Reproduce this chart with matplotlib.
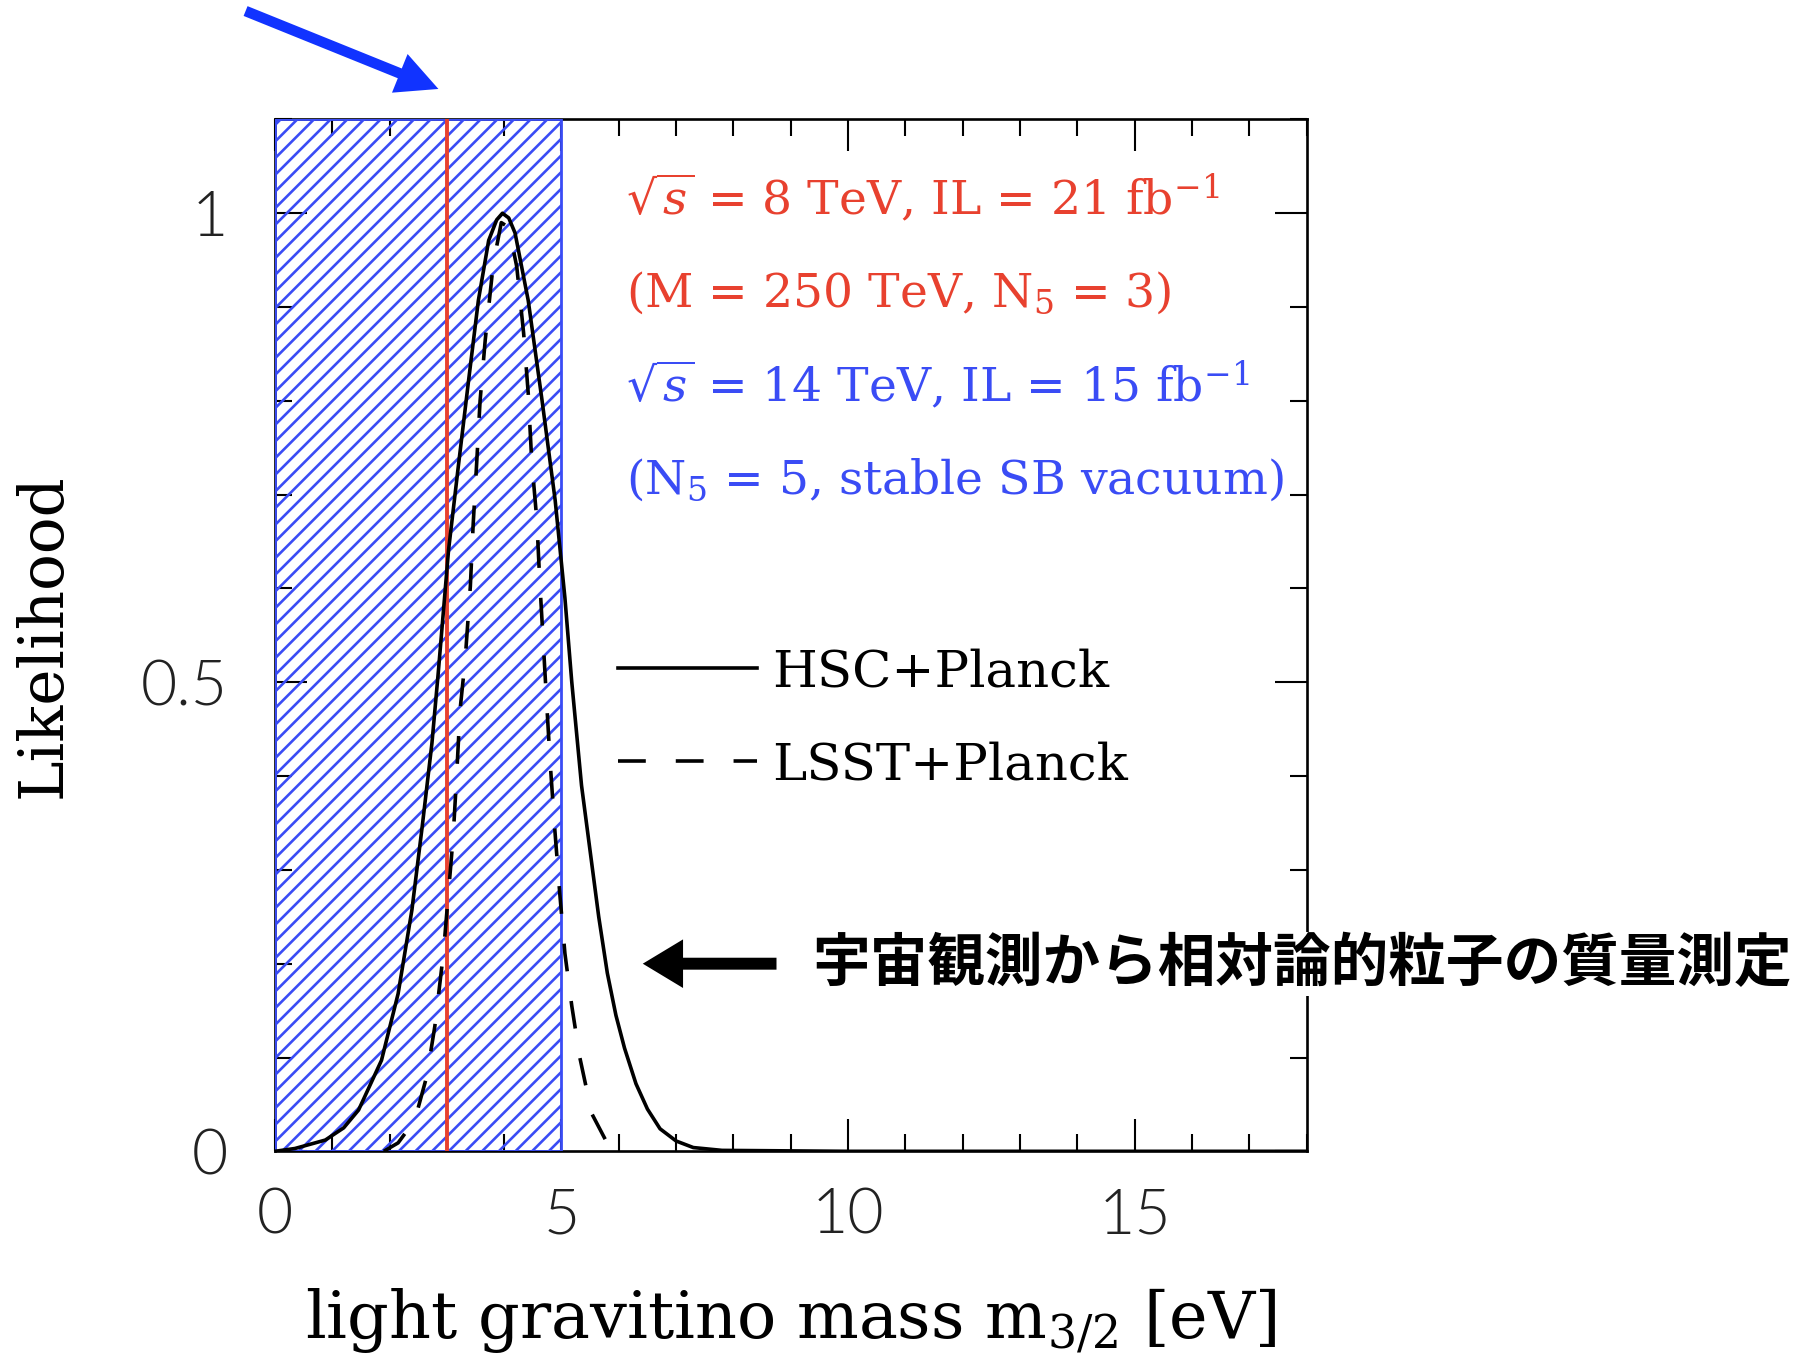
import numpy as np
import matplotlib.pyplot as plt
from matplotlib.ticker import MultipleLocator
from matplotlib.patches import FancyArrowPatch

# значения
hsc_x = [0.0, 0.35, 0.88, 1.2, 1.46, 1.86, 2.15, 2.39, 2.57, 2.74, 2.85, 3.03, 3.20, 3.38,
         3.55, 3.73, 3.87, 3.97, 4.08, 4.19, 4.42, 4.66, 4.89, 5.06, 5.18, 5.35, 5.5, 5.65,
         5.8, 5.95, 6.1, 6.3, 6.5, 6.72, 7.0, 7.3, 7.8, 10.0, 18.0]
hsc_y = [0.0, 0.003, 0.012, 0.025, 0.044, 0.097, 0.168, 0.257, 0.346, 0.435, 0.51, 0.641, 0.730, 0.822,
         0.907, 0.971, 0.993, 1.0, 0.995, 0.979, 0.907, 0.801, 0.694, 0.59, 0.50, 0.39, 0.32, 0.25,
         0.19, 0.145, 0.11, 0.072, 0.045, 0.024, 0.011, 0.004, 0.001, 0.0, 0.0]

lsst_x = [1.9, 2.15, 2.44, 2.65, 2.79, 2.94, 3.11, 3.17, 3.23, 3.32, 3.41, 3.46, 3.52, 3.58, 3.67,
          3.81, 3.95, 4.08, 4.22, 4.34, 4.42, 4.48, 4.57, 4.62, 4.68, 4.74, 4.80, 4.88, 4.97,
          5.06, 5.18, 5.32, 5.53, 5.77, 6.0]
lsst_y = [0.0, 0.009, 0.033, 0.080, 0.133, 0.211, 0.335, 0.399, 0.470, 0.524, 0.602, 0.669, 0.733, 0.80, 0.865,
          0.946, 0.99, 0.985, 0.943, 0.872, 0.808, 0.737, 0.673, 0.609, 0.545, 0.48, 0.417, 0.346, 0.275,
          0.211, 0.155, 0.1, 0.04, 0.012, 0.0]

excluded = (0.0, 5.0)     # заштрихованная область
lhc_mass = 3.0            # красная линия

labels = ["HSC+Planck", "LSST+Planck"]
notes_red = [r"$\sqrt{s}$ = 8 TeV, IL = 21 fb$^{-1}$", r"(M = 250 TeV, N$_5$ = 3)"]
notes_blue = [r"$\sqrt{s}$ = 14 TeV, IL = 15 fb$^{-1}$", r"(N$_5$ = 5, stable SB vacuum)"]
jp_text = "宇宙観測から相対論的粒子の質量測定"

RED = "#e8412f"
BLUE = "#3a4cf5"

plt.rcParams["font.family"] = ["DejaVu Serif"]
plt.rcParams["mathtext.fontset"] = "dejavuserif"
plt.rcParams["hatch.linewidth"] = 1.9
plt.rcParams["hatch.color"] = BLUE

fig = plt.figure(figsize=(18.18, 13.68), dpi=100)
ax = fig.add_axes([0.1512, 0.1584, 0.5675, 0.7543])

ax.axvspan(*excluded, facecolor="none", edgecolor=BLUE, hatch="//", linewidth=2.0, zorder=3)
ax.axvline(lhc_mass, color=RED, linewidth=2.8, zorder=3.5)

ax.plot(hsc_x, hsc_y, color="black", linewidth=2.6, zorder=4, label=labels[0])
ln, = ax.plot(lsst_x, lsst_y, color="black", linewidth=2.6, zorder=4, label=labels[1])
ln.set_dashes((7.7, 8.3))

ax.set_xlim(0, 18)
ax.set_ylim(0, 1.1)
ax.xaxis.set_major_locator(MultipleLocator(5))
ax.xaxis.set_minor_locator(MultipleLocator(1))
ax.yaxis.set_major_locator(MultipleLocator(0.5))
ax.yaxis.set_minor_locator(MultipleLocator(0.1))
ax.tick_params(which="both", direction="in", top=True, right=True, width=1.5)
ax.tick_params(which="major", length=23)
ax.tick_params(which="minor", length=12)
ax.tick_params(axis="x", which="major", pad=26)
ax.tick_params(axis="y", which="major", pad=34)
ax.set_yticks([0, 0.5, 1])
ax.set_yticklabels(["0", "0.5", "1"])
for t in ax.get_xticklabels() + ax.get_yticklabels():
    t.set_fontfamily(["Lato", "DejaVu Sans"])
    t.set_fontweight(300)
    t.set_fontsize(45)
    t.set_color("#222222")
for s in ax.spines.values():
    s.set_linewidth(1.9)

ax.set_xlabel(r"light gravitino mass m$_{3/2}$ [eV]", fontsize=47, labelpad=30)
ax.set_ylabel("Likelihood", fontsize=44, labelpad=48)

for i, s in enumerate(notes_red):
    ax.text(6.13, 1.015 - 0.1 * i, s, color=RED, fontsize=34, va="center", ha="left", zorder=5)
for i, s in enumerate(notes_blue):
    ax.text(6.13, 0.815 - 0.1 * i, s, color=BLUE, fontsize=34, va="center", ha="left", zorder=5)

ax.legend(loc="upper left", bbox_to_anchor=(0.333, 0.488), frameon=False, fontsize=37,
          handlelength=2.7, handletextpad=0.3, labelspacing=0.85, borderpad=0, borderaxespad=0)

# стрелка и подпись
ax.annotate("", xy=(6.37, 0.2), xytext=(8.8, 0.2),
            arrowprops=dict(arrowstyle="simple,head_length=1.45,head_width=1.75,tail_width=0.43",
                            mutation_scale=20, color="black", lw=0))
ax.text(9.37, 0.2, jp_text, fontsize=41.5, fontweight="bold", family=["Noto Sans CJK JP", "DejaVu Sans"],
        va="center", ha="left", zorder=6, clip_on=False,
        bbox=dict(facecolor="white", edgecolor="none", pad=2))

arr = FancyArrowPatch((243, 1368 - 10), (441, 1368 - 90), transform=None,
                      arrowstyle="simple,head_length=1.5,head_width=1.5,tail_width=0.38",
                      mutation_scale=20, color="#1133ff", lw=0)
fig.add_artist(arr)

fig.savefig("out.png", dpi=100)
